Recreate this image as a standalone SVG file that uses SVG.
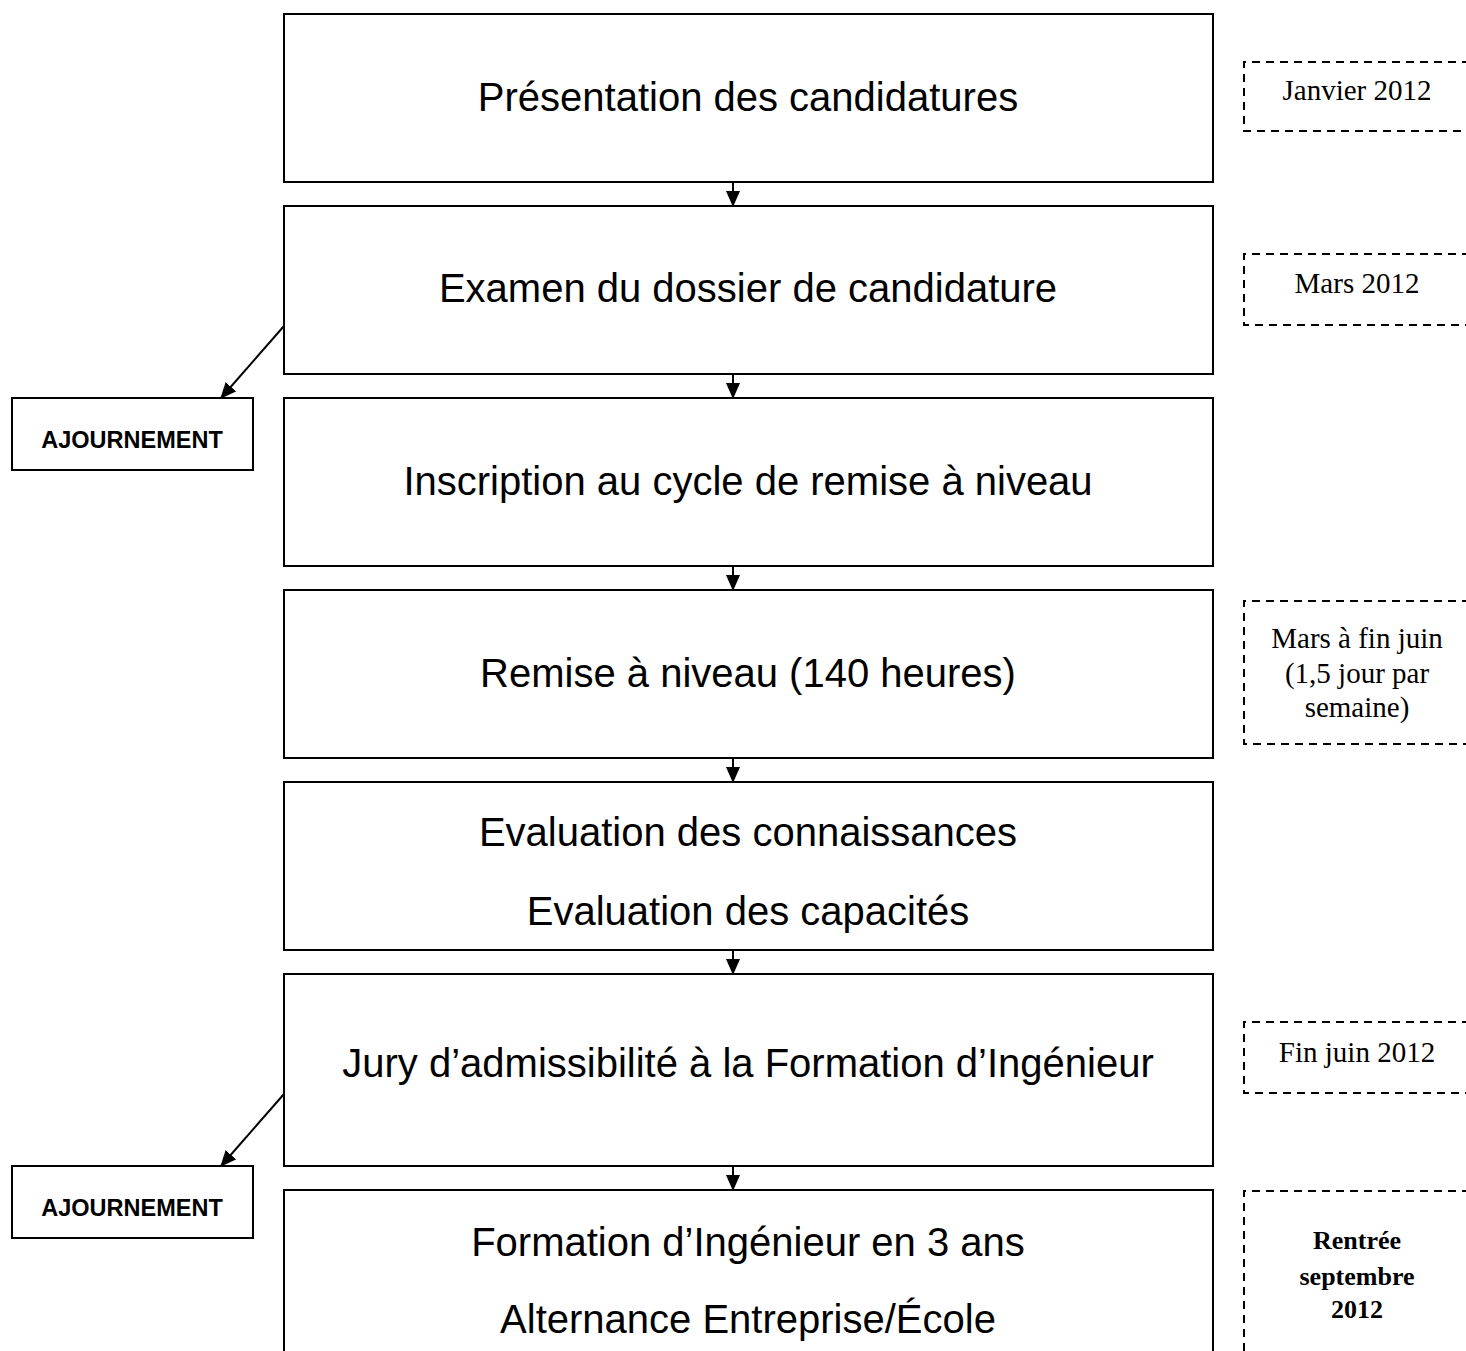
<svg xmlns="http://www.w3.org/2000/svg" width="1466" height="1351" viewBox="0 0 1466 1351">
<style>
.box{fill:#fff;stroke:#000;stroke-width:2}
.dash{fill:none;stroke:#000;stroke-width:2;stroke-dasharray:8 6}
.main{font-family:"Liberation Sans",Arial,sans-serif;font-size:40px;text-anchor:middle;fill:#000}
.side{font-family:"Liberation Serif","Times New Roman",serif;font-size:29px;text-anchor:middle;fill:#000}
.sideb{font-family:"Liberation Serif","Times New Roman",serif;font-size:26px;font-weight:bold;text-anchor:middle;fill:#000}
.aj{font-family:"Liberation Sans",Arial,sans-serif;font-size:23.5px;font-weight:bold;text-anchor:middle;fill:#000}
.conn{stroke:#000;stroke-width:2;fill:none;marker-end:url(#ah)}
</style>
<defs>
<marker id="ah" viewBox="0 0 16 14" refX="15" refY="7" markerWidth="16" markerHeight="14" markerUnits="userSpaceOnUse" orient="auto">
<path d="M0,0 L16,7 L0,14 z" fill="#000"/>
</marker>
</defs>
<rect width="1466" height="1351" fill="#fff"/>
<g id="n1"><rect class="box" x="284" y="14" width="929" height="168"/><text class="main" x="748" y="111">Présentation des candidatures</text></g>
<g id="n2"><rect class="box" x="284" y="206" width="929" height="168"/><text class="main" x="748" y="302">Examen du dossier de candidature</text></g>
<g id="n3"><rect class="box" x="284" y="398" width="929" height="168"/><text class="main" x="748" y="495">Inscription au cycle de remise à niveau</text></g>
<g id="n4"><rect class="box" x="284" y="590" width="929" height="168"/><text class="main" x="748" y="687">Remise à niveau (140 heures)</text></g>
<g id="n5"><rect class="box" x="284" y="782" width="929" height="168"/><text class="main" x="748" y="846">Evaluation des connaissances</text><text class="main" x="748" y="925">Evaluation des capacités</text></g>
<g id="n6"><rect class="box" x="284" y="974" width="929" height="192"/><text class="main" x="748" y="1077">Jury d’admissibilité à la Formation d’Ingénieur</text></g>
<g id="n7"><path class="box" d="M284,1360 V1190 H1213 V1360"/><text class="main" x="748" y="1256">Formation d’Ingénieur en 3 ans</text><text class="main" x="748" y="1333">Alternance Entreprise/École</text></g>
<g id="aj1"><rect class="box" x="12" y="398" width="241" height="72"/><text class="aj" x="132" y="448">AJOURNEMENT</text></g>
<g id="aj2"><rect class="box" x="12" y="1166" width="241" height="72"/><text class="aj" x="132" y="1216">AJOURNEMENT</text></g>
<g id="d1"><path class="dash" d="M1470,62 H1244 V131 H1470"/><text class="side" x="1357" y="100">Janvier 2012</text></g>
<g id="d2"><path class="dash" d="M1470,254 H1244 V325 H1470"/><text class="side" x="1357" y="293">Mars 2012</text></g>
<g id="d3"><path class="dash" d="M1470,601 H1244 V744 H1470"/><text class="side" x="1357" y="648">Mars à fin juin</text><text class="side" x="1357" y="683">(1,5 jour par</text><text class="side" x="1357" y="717">semaine)</text></g>
<g id="d4"><path class="dash" d="M1470,1022 H1244 V1093 H1470"/><text class="side" x="1357" y="1062">Fin juin 2012</text></g>
<g id="d5"><path class="dash" d="M1470,1191 H1244 V1360"/><text class="sideb" x="1357" y="1249">Rentrée</text><text class="sideb" x="1357" y="1285">septembre</text><text class="sideb" x="1357" y="1318">2012</text></g>
<g id="connectors">
<line class="conn" x1="733" y1="182" x2="733" y2="206"/>
<line class="conn" x1="733" y1="374" x2="733" y2="398"/>
<line class="conn" x1="733" y1="566" x2="733" y2="590"/>
<line class="conn" x1="733" y1="758" x2="733" y2="782"/>
<line class="conn" x1="733" y1="950" x2="733" y2="974"/>
<line class="conn" x1="733" y1="1166" x2="733" y2="1190"/>
<line class="conn" x1="284" y1="326" x2="221" y2="398"/>
<line class="conn" x1="284" y1="1094" x2="221" y2="1166"/>
</g>
</svg>
